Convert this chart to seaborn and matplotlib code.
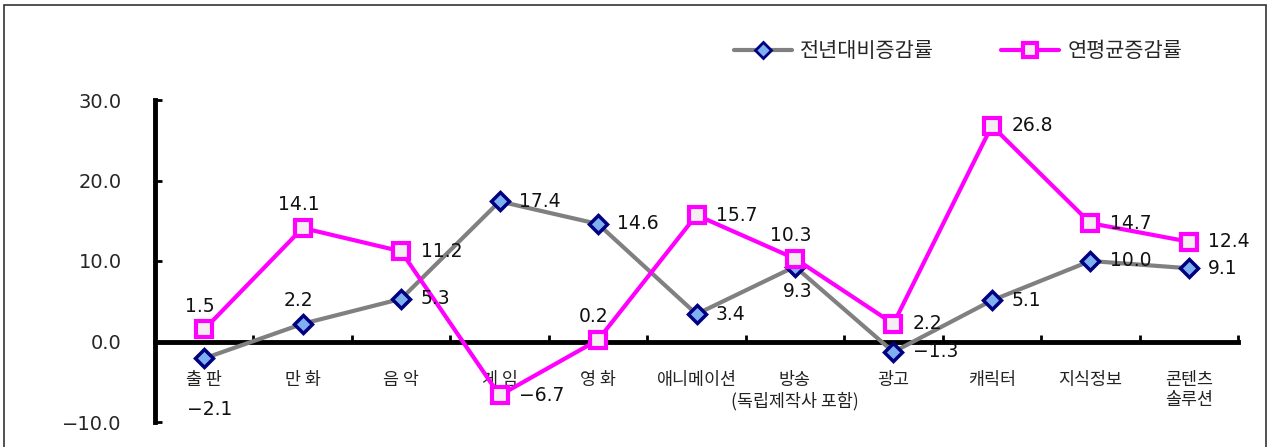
import numpy as np
import pandas as pd
import matplotlib
matplotlib.use("Agg")
import matplotlib.pyplot as plt
from matplotlib.lines import Line2D
from matplotlib.patches import Rectangle
import seaborn as sns

# --- data ---
categories = ["출 판", "만 화", "음 악", "게 임", "영 화", "애니메이션",
              "방송\n(독립제작사 포함)", "광고", "캐릭터", "지식정보", "콘텐츠\n솔루션"]
yoy_growth = [-2.1, 2.2, 5.3, 17.4, 14.6, 3.4, 9.3, -1.3, 5.1, 10.0, 9.1]
cagr = [1.5, 14.1, 11.2, -6.7, 0.2, 15.7, 10.3, 2.2, 26.8, 14.7, 12.4]
series_names = ["전년대비증감률", "연평균증감률"]
yticks = [-10.0, 0.0, 10.0, 20.0, 30.0]

# label placement for each point: 'r' right, 'a' above, 'b' below
yoy_pos = ["b", "a", "r", "r", "r", "r", "b", "r", "r", "r", "r"]
cagr_pos = ["a", "a", "r", "r", "a", "r", "a", "r", "r", "r", "r"]

sns.set_theme(style="white")
plt.rcParams["font.family"] = ["Noto Sans CJK KR", "DejaVu Sans"]
plt.rcParams["axes.unicode_minus"] = True

df = pd.DataFrame({
    "idx": list(range(len(categories))) * 2,
    "value": yoy_growth + cagr,
    "series": [series_names[0]] * len(categories) + [series_names[1]] * len(categories),
})

fig = plt.figure(figsize=(12.72, 4.47), dpi=100)
ax = fig.add_axes([155 / 1272, 25 / 447, 1083 / 1272, 322 / 447])

gray, navy, light_blue, magenta = "#808080", "#000080", "#7EB0F0", "#FF00FF"

sns.lineplot(data=df[df.series == series_names[0]], x="idx", y="value", ax=ax,
             color=gray, lw=3, marker="D", markersize=9, markeredgewidth=2.5,
             markeredgecolor=navy, markerfacecolor=light_blue, legend=False, zorder=3)
sns.lineplot(data=df[df.series == series_names[1]], x="idx", y="value", ax=ax,
             color=magenta, lw=3, marker="s", markersize=12, markeredgewidth=3,
             markeredgecolor=magenta, markerfacecolor="#F4EEF2", legend=False, zorder=4)

offsets = {"r": ((14, 0), "left", "center"),
           "a": ((-3, 10), "center", "bottom"),
           "b": ((2, -11), "center", "top")}


def fmt(v):
    return f"{v:.1f}".replace("-", "\u2212")


for vals, pos in ((yoy_growth, yoy_pos), (cagr, cagr_pos)):
    for i, (v, p) in enumerate(zip(vals, pos)):
        off, ha, va = offsets[p]
        if p == "b" and i == 0:
            off = (4, -30)
        ax.annotate(fmt(v), (i, v), xytext=off, textcoords="offset points",
                    ha=ha, va=va, fontsize=13.5, color="#111111",
                    family=["DejaVu Sans"], zorder=6)

ax.set_xlim(-0.5, len(categories) - 0.5)
ax.set_ylim(-10, 30)
ax.set_yticks(yticks)
ax.set_yticklabels([fmt(t) for t in yticks], fontsize=14, family=["DejaVu Sans"])

# boundary ticks on the zero line, category names centred between them
ax.set_xticks(np.arange(-0.5, len(categories), 1.0))
ax.set_xticklabels([])
ax.set_xticks(range(len(categories)), minor=True)
ax.tick_params(axis="x", which="major", bottom=True, direction="in", length=5,
               width=2, color="black")
ax.tick_params(axis="x", which="minor", bottom=False, length=0, pad=21,
               labelsize=12.5, labelcolor="#222222")
ax.set_xticklabels(categories, minor=True, fontsize=12.5, color="#222222",
                   linespacing=1.5, va="top")
ax.tick_params(axis="y", left=True, direction="in", length=5, width=2,
               color="black", pad=24)
ax.set_xlabel("")
ax.set_ylabel("")

for s in ("top", "right"):
    ax.spines[s].set_visible(False)
ax.spines["bottom"].set_position(("data", 0))
ax.spines["bottom"].set_linewidth(3.5)
ax.spines["bottom"].set_color("black")
ax.spines["left"].set_linewidth(3.5)
ax.spines["left"].set_color("black")
ax.spines["left"].set_bounds(-10, 30)

handles = [
    Line2D([], [], color=gray, lw=3, marker="D", markersize=8, markeredgewidth=2,
           markeredgecolor=navy, markerfacecolor=light_blue),
    Line2D([], [], color=magenta, lw=3, marker="s", markersize=10,
           markeredgewidth=3, markeredgecolor=magenta, markerfacecolor="#F4EEF2"),
]
fig.legend(handles, series_names, loc="center", bbox_to_anchor=(958 / 1272, 1 - 51 / 447),
           ncol=2, frameon=False, fontsize=15, handlelength=2.8,
           columnspacing=3.2, handletextpad=0.4)

fig.patches.append(Rectangle((4 / 1272, -0.05), 1262 / 1272, 1.05 - 5 / 447,
                             transform=fig.transFigure, fill=False,
                             edgecolor="#333333", lw=1.2))

fig.savefig("out.png", dpi=100)
